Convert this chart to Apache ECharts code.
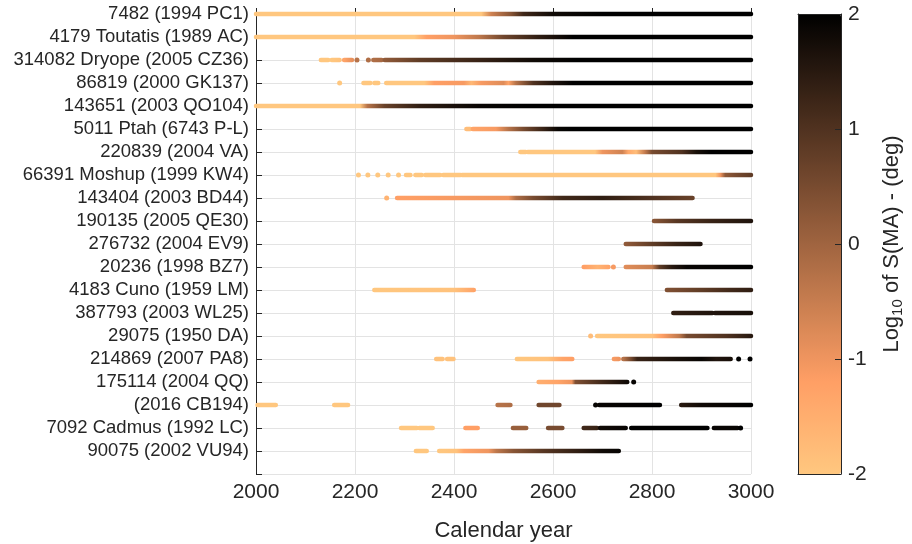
<!DOCTYPE html>
<html>
<head>
    <meta charset="utf-8" />
    <title>S(MA) tracks</title>
    <script src="https://cdn.jsdelivr.net/npm/echarts@6/dist/echarts.min.js"></script>
    <style>
        html, body { margin: 0; padding: 0; background: #fff; }
        #main { width: 912px; height: 544px; }
    </style>
</head>
<body>
    <div id="main"></div>
<script>
    // row labels, top to bottom
    var names = ['7482 (1994 PC1)', '4179 Toutatis (1989 AC)', '314082 Dryope (2005 CZ36)', '86819 (2000 GK137)',
        '143651 (2003 QO104)', '5011 Ptah (6743 P-L)', '220839 (2004 VA)', '66391 Moshup (1999 KW4)',
        '143404 (2003 BD44)', '190135 (2005 QE30)', '276732 (2004 EV9)', '20236 (1998 BZ7)',
        '4183 Cuno (1959 LM)', '387793 (2003 WL25)', '29075 (1950 DA)', '214869 (2007 PA8)',
        '175114 (2004 QQ)', '(2016 CB194)', '7092 Cadmus (1992 LC)', '90075 (2002 VU94)'];

    var xTicks = [2000, 2200, 2400, 2600, 2800, 3000];
    var cbarTicks = [-2, -1, 0, 1, 2];

    // each row: list of runs, each run = list of [year, log10 S(MA)]
    var t01 = [[[2000, -2], [2455, -2], [2475, -0.6], [2515, 0.3], [2540, 1.2], [2600, 1.8], [2700, 2], [3000, 2]]];
    var t02 = [[[2000, -2], [2320, -2], [2345, -1.2], [2400, -1.0], [2450, -0.4], [2500, 0.6], [2570, 1.4], [2640, 2], [3000, 2]]];
    var t03 = [[[2131, -2], [2146, -2]], [[2153, -2], [2169, -1.9]], [[2178, -1.3], [2194, -0.9]], [[2204, -0.3]], [[2227, -0.2]],
        [[2237, -0.2], [2254, -0.1]], [[2260, 0.2], [2330, 0.8], [2450, 1.3], [2560, 1.8], [2650, 2], [3000, 2]]];
    var t04 = [[[2169, -2]], [[2217, -2], [2231, -2]], [[2239, -2], [2247, -2]],
        [[2263, -2], [2340, -2], [2360, -1.2], [2420, -1.1], [2435, -1.7], [2455, -1.1], [2500, -0.8], [2510, -1.3], [2525, -0.3], [2560, 1.0], [2600, 1.6], [2640, 2], [3000, 2]]];
    var t05 = [[[2000, -2], [2210, -2], [2225, -0.3], [2260, 0.7], [2330, 1.4], [2450, 1.9], [2550, 2], [3000, 2]]];
    var t06 = [[[2425, -1.8], [2433, -1.8]], [[2438, -1.3], [2485, -1.1], [2510, -0.3], [2540, 0.5], [2580, 1.3], [2610, 1.9], [2640, 2], [3000, 2]]];
    var t07 = [[[2534, -2], [2545, -2]], [[2549, -2], [2685, -2], [2700, -1.0], [2740, -0.6], [2752, -1.4], [2768, -1.8], [2785, -0.5], [2800, 0.5], [2860, 1.0], [2890, 1.7], [2920, 2], [3000, 2]]];
    var t08 = [[[2207, -2]], [[2226, -2]], [[2246, -2]], [[2267, -2]], [[2288, -2]], [[2303, -2], [2312, -2]], [[2322, -2], [2335, -2]],
        [[2342, -2], [2372, -2]], [[2378, -2], [2413, -2]], [[2416, -2], [2928, -2], [2938, -1.0], [2948, 0.2], [2970, 0.5], [3000, 0.8]]];
    var t09 = [[[2264, -1.6]], [[2285, -1.2], [2400, -1.1], [2510, -1.0], [2525, -0.2], [2560, 0.5], [2620, 1.2], [2700, 1.4], [2800, 1.0], [2882, 0.7]]];
    var t10 = [[[2804, 0.3], [2850, 0.9], [2920, 1.3], [3000, 1.6]]];
    var t11 = [[[2747, 0.2], [2800, 0.8], [2850, 1.3], [2898, 1.6]]];
    var t12 = [[[2662, -1.2], [2690, -1.6], [2712, -1.3]], [[2722, -1.1]], [[2747, -0.8], [2800, -0.5], [2815, 0.8], [2840, 1.5], [2870, 1.9], [3000, 2]]];
    var t13 = [[[2239, -2], [2400, -1.9], [2420, -1.6], [2440, -1.3]], [[2830, 0.4], [2900, 0.8], [2960, 1.2], [3000, 1.4]]];
    var t14 = [[[2843, 1.4], [2922, 1.6]], [[2927, 1.6], [3000, 1.7]]];
    var t15 = [[[2676, -1.8]], [[2689, -2], [2800, -1.9], [2820, -1.2], [2855, -0.4], [2870, 0.5], [2950, 1.0], [3000, 1.5]]];
    var t16 = [[[2364, -1.9], [2377, -1.9]], [[2386, -1.9], [2399, -1.9]], [[2527, -2], [2590, -1.9], [2620, -1.3], [2639, -1.2]],
        [[2723, -1.1], [2733, -1.0]], [[2742, -0.3], [2757, 0.5], [2770, 1.3], [2850, 1.7], [2900, 1.9], [2930, 1.6], [2959, 1.7]], [[2975, 2]], [[2998, 2]]];
    var t17 = [[[2571, -1.5], [2610, -1.3], [2638, -1.0], [2645, 0.4], [2700, 1.2], [2750, 1.8]], [[2763, 1.9]]];
    var t18 = [[[2003, -2], [2040, -2]], [[2158, -2], [2186, -2]], [[2488, -0.3], [2514, -0.2]], [[2571, 0.6], [2613, 0.6]],
        [[2686, 1.9]], [[2693, 1.9], [2816, 2]], [[2859, 1.5], [2900, 1.8], [3000, 2]]];
    var t19 = [[[2293, -2], [2325, -2]], [[2330, -2], [2357, -2]], [[2423, -1.2], [2448, -1.2]], [[2519, 0.1], [2546, 0.1]],
        [[2590, 0.5], [2619, 0.5]], [[2662, 1.2], [2689, 1.3]], [[2695, 1.8], [2747, 1.9]], [[2758, 2], [2912, 2]], [[2925, 1.9], [2973, 1.9]], [[2979, 2]]];
    var t20 = [[[2323, -2], [2345, -2]], [[2370, -2], [2405, -1.9], [2420, -1.3], [2470, -1.0], [2485, -0.4], [2520, 0.3], [2580, 0.9], [2650, 1.4], [2700, 1.8], [2733, 1.9]]];

    var tracks = [t01, t02, t03, t04, t05, t06, t07, t08, t09, t10, t11, t12, t13, t14, t15, t16, t17, t18, t19, t20];

    // reversed copper colormap, stops evenly spaced from -2 to 2
    var cmap = ['#ffc77f', '#ff9f65', '#bf784c', '#805033', '#402819', '#000000'];
    var cmin = -2, cmax = 2;

    function hexRgb(h) {
        return [parseInt(h.substr(1, 2), 16), parseInt(h.substr(3, 2), 16), parseInt(h.substr(5, 2), 16)];
    }
    function colorOf(v) {
        var t = (Math.min(cmax, Math.max(cmin, v)) - cmin) / (cmax - cmin) * (cmap.length - 1);
        var i = Math.min(cmap.length - 2, Math.floor(t));
        var f = t - i;
        var a = hexRgb(cmap[i]), b = hexRgb(cmap[i + 1]);
        return 'rgb(' + [0, 1, 2].map(function (k) { return Math.round(a[k] + (b[k] - a[k]) * f); }).join(',') + ')';
    }

    // flatten runs -> items [row, startYear, endYear, runId]
    var runs = [];
    var items = [];
    tracks.forEach(function (row, r) {
        row.forEach(function (run) {
            items.push([r, run[0][0], run[run.length - 1][0], runs.length]);
            runs.push(run);
        });
    });

    function renderItem(params, api) {
        var run = runs[api.value(3)];
        var y = api.value(0);
        var p0 = api.coord([api.value(1), y]);
        var p1 = api.coord([api.value(2), y]);
        if (run.length === 1) {
            return { type: 'circle', shape: { cx: p0[0], cy: p0[1], r: 2.5 }, style: { fill: colorOf(run[0][1]) } };
        }
        var span = run[run.length - 1][0] - run[0][0];
        var stops = run.map(function (k) {
            return { offset: (k[0] - run[0][0]) / span, color: colorOf(k[1]) };
        });
        return {
            type: 'line',
            shape: { x1: p0[0], y1: p0[1], x2: p1[0], y2: p1[1] },
            style: {
                stroke: new echarts.graphic.LinearGradient(p0[0], p0[1], p1[0], p1[1], stops, true),
                lineWidth: 4.5,
                lineCap: 'round'
            }
        };
    }

    var dark = '#262626';
    var font = 'Liberation Sans';

    var myChart = echarts.init(document.getElementById('main'));
    var option = {
        backgroundColor: '#fff',
        animation: false,
        textStyle: { fontFamily: font },
        grid: [
            { left: 256, top: 14, width: 495, height: 460, outerBoundsMode: 'none' },
            { left: 798, top: 14, width: 43, height: 460, outerBoundsMode: 'none' }
        ],
        visualMap: {
            type: 'continuous',
            min: cmin,
            max: cmax,
            seriesIndex: [],
            calculable: false,
            left: 798,
            top: 14,
            padding: 0,
            itemWidth: 43,
            itemHeight: 460,
            inRange: { color: cmap }
        },
        xAxis: [
            {
                gridIndex: 0,
                type: 'value',
                min: 2000, max: 3000, interval: 200,
                name: 'Calendar year',
                nameLocation: 'middle',
                nameGap: 46,
                nameTextStyle: { fontSize: 22, color: dark, fontFamily: font },
                axisLine: { lineStyle: { color: dark, width: 1 } },
                axisTick: { inside: true, length: 6, lineStyle: { color: dark } },
                axisLabel: {
                    fontSize: 21, color: dark, margin: 8, fontFamily: font,
                    formatter: function (v) { return xTicks.indexOf(v) >= 0 ? String(v) : ''; }
                },
                splitLine: { show: true, lineStyle: { color: '#e3e3e3', width: 1 } }
            },
            {
                gridIndex: 1,
                type: 'value', min: 0, max: 1,
                axisLine: { show: true, onZero: false, lineStyle: { color: dark } },
                axisTick: { show: false }, axisLabel: { show: false }, splitLine: { show: false },
                z: 10
            },
            {
                gridIndex: 1, position: 'top',
                type: 'value', min: 0, max: 1,
                axisLine: { show: true, onZero: false, lineStyle: { color: dark } },
                axisTick: { show: false }, axisLabel: { show: false }, splitLine: { show: false },
                z: 10
            }
        ],
        yAxis: [
            {
                gridIndex: 0,
                type: 'value',
                inverse: true,
                min: 0, max: 20, interval: 1,
                axisLine: { show: true, lineStyle: { color: dark, width: 1 } },
                axisTick: { show: true, inside: true, length: 6, lineStyle: { color: dark } },
                axisLabel: {
                    fontSize: 18.5, color: dark, margin: 7, fontFamily: font,
                    formatter: function (v) { return names[v] || ''; }
                },
                splitLine: { show: true, lineStyle: { color: '#e3e3e3', width: 1 } }
            },
            {
                gridIndex: 1,
                type: 'value',
                position: 'right',
                min: cbarTicks[0], max: cbarTicks[cbarTicks.length - 1], interval: 1,
                name: '{a|Log}{s|10}{a| of S(MA) - (deg)}',
                nameLocation: 'middle',
                nameRotate: 90,
                nameGap: 38,
                nameTextStyle: {
                    color: dark, fontFamily: font,
                    rich: {
                        a: { fontSize: 22, color: dark, fontFamily: font, lineHeight: 26 },
                        s: { fontSize: 15, color: dark, fontFamily: font, lineHeight: 15, verticalAlign: 'bottom' }
                    }
                },
                axisLine: { show: true, onZero: false, lineStyle: { color: dark } },
                axisTick: { show: true, inside: true, length: 6, lineStyle: { color: dark } },
                axisLabel: { fontSize: 21, color: dark, margin: 7, fontFamily: font },
                splitLine: { show: false },
                z: 10
            },
            {
                gridIndex: 1,
                type: 'value',
                position: 'left',
                min: -2, max: 2,
                axisLine: { show: true, onZero: false, lineStyle: { color: dark } },
                axisTick: { show: false }, axisLabel: { show: false }, splitLine: { show: false },
                z: 10
            }
        ],
        series: [
            {
                type: 'custom',
                xAxisIndex: 0,
                yAxisIndex: 0,
                clip: false,
                renderItem: renderItem,
                encode: { x: [1, 2], y: 0 },
                data: items,
                z: 5
            }
        ]
    };
    myChart.setOption(option);
</script>
</body>
</html>
